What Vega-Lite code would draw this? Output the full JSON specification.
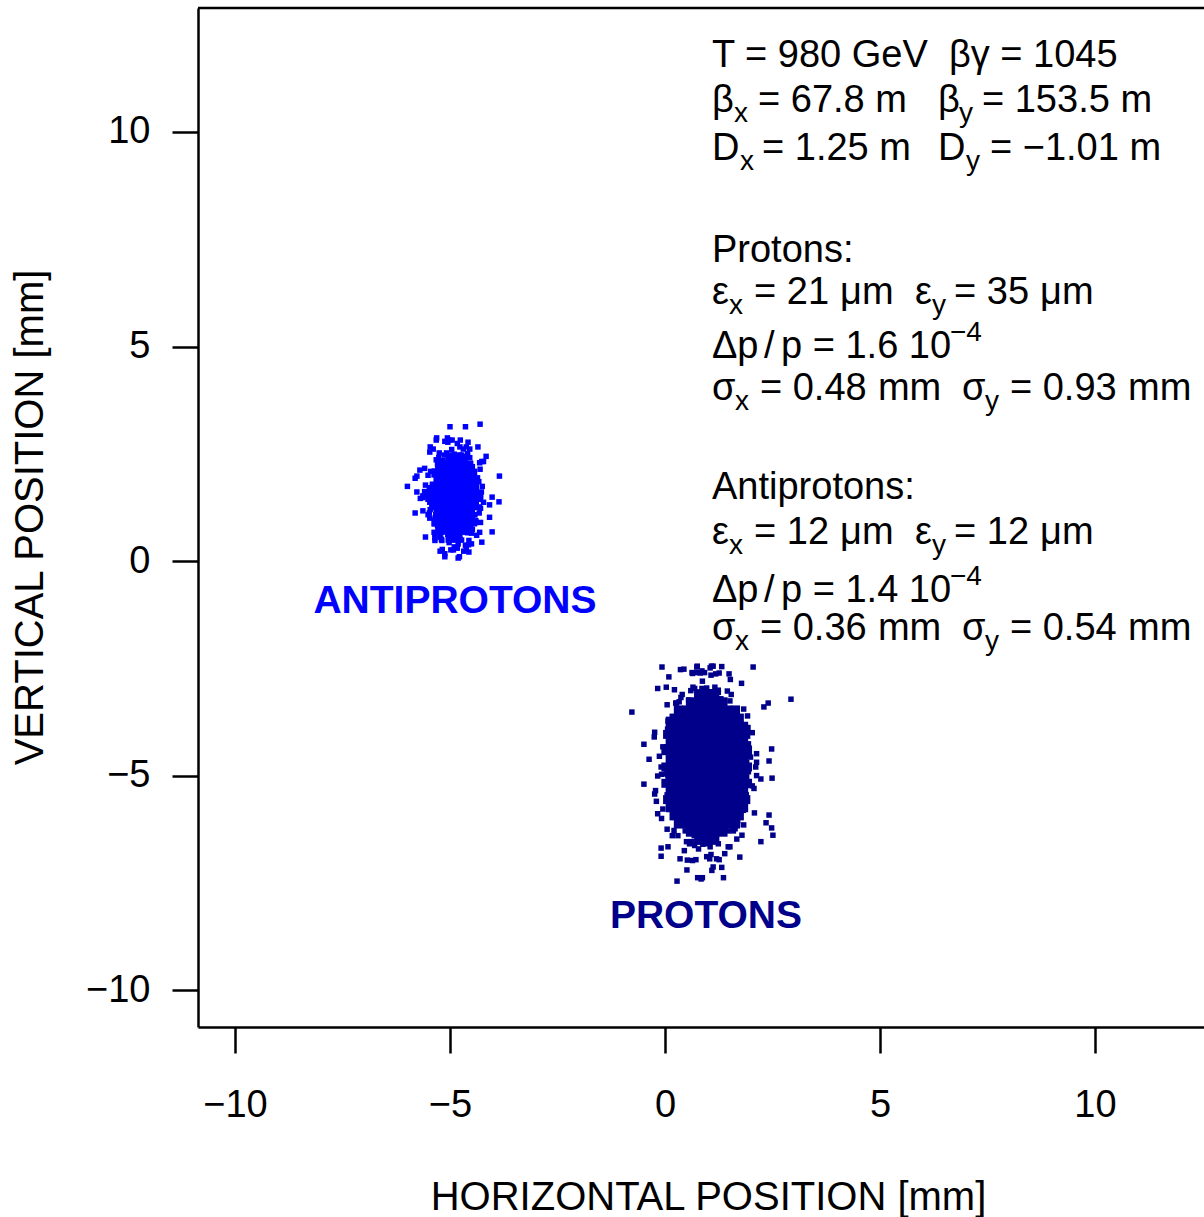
{
"$schema":"https://vega.github.io/schema/vega-lite/v6.json",
"autosize":{"type":"none"},
"padding":{"left":198,"top":8,"right":0,"bottom":190},
"width":1006,"height":1019,
"background":"white",
"config":{"view":{"stroke":null},"font":"Liberation Sans",
"axis":{"grid":false,"domainColor":"black","domainWidth":2.5,"tickColor":"black","tickWidth":2.5,"tickSize":26,"labelFont":"Liberation Sans","labelFontSize":38,"labelColor":"black","labelFlush":false,"labelOverlap":false,"titleFont":"Liberation Sans","titleFontSize":40,"titleFontWeight":"normal","titleColor":"black"}},
"datasets":{
"protons":[
{"x":1.00,"y":-4.43},{"x":0.57,"y":-6.59},{"x":1.55,"y":-3.95},{"x":0.83,"y":-5.13},{"x":1.24,"y":-4.66},{"x":0.27,"y":-5.67},{"x":0.96,"y":-3.57},{"x":1.36,"y":-5.45},{"x":0.75,"y":-4.78},{"x":1.79,"y":-4.37},
{"x":0.91,"y":-5.99},{"x":0.44,"y":-4.60},{"x":1.12,"y":-4.87},{"x":1.30,"y":-3.85},{"x":0.68,"y":-5.29},{"x":1.94,"y":-4.26},{"x":0.87,"y":-6.35},{"x":1.17,"y":-4.50},{"x":0.03,"y":-4.96},{"x":1.43,"y":-4.04},
{"x":0.80,"y":-5.17},{"x":1.05,"y":-3.46},{"x":0.52,"y":-5.72},{"x":1.63,"y":-4.71},{"x":0.63,"y":-5.42},{"x":0.99,"y":-3.79},{"x":1.21,"y":-5.05},{"x":0.35,"y":-4.40},{"x":1.08,"y":-5.88},{"x":0.94,"y":-4.14},
{"x":1.48,"y":-4.90},{"x":0.72,"y":-6.96},{"x":1.26,"y":-2.61},{"x":0.15,"y":-4.75},{"x":1.13,"y":-5.57},{"x":0.89,"y":-3.72},{"x":1.38,"y":-5.08},{"x":0.78,"y":-4.31},{"x":1.69,"y":-6.14},{"x":0.49,"y":-4.82},
{"x":1.02,"y":-4.08},{"x":0.65,"y":-5.22},{"x":1.51,"y":-3.26},{"x":0.85,"y":-4.93},{"x":1.19,"y":-5.81},{"x":0.41,"y":-4.53},{"x":1.33,"y":-4.20},{"x":0.92,"y":-5.37},{"x":-0.17,"y":-2.97},{"x":2.13,"y":-5.00},
{"x":0.99,"y":-6.40},{"x":0.67,"y":-4.82},{"x":1.39,"y":-3.92},{"x":0.86,"y":-5.30},{"x":1.16,"y":-2.94},{"x":0.45,"y":-4.94},{"x":0.96,"y":-6.00},{"x":1.25,"y":-4.46},{"x":0.80,"y":-4.06},{"x":1.57,"y":-5.47},
{"x":0.92,"y":-2.60},{"x":0.58,"y":-5.03},{"x":1.08,"y":-4.35},{"x":1.20,"y":-6.94},{"x":0.75,"y":-3.77},{"x":1.68,"y":-5.19},{"x":0.89,"y":-4.63},{"x":1.11,"y":-5.83},{"x":0.27,"y":-3.31},{"x":1.30,"y":-5.57},
{"x":0.84,"y":-4.77},{"x":1.02,"y":-4.27},{"x":0.63,"y":-6.22},{"x":1.45,"y":-4.55},{"x":0.72,"y":-4.87},{"x":0.98,"y":-3.65},{"x":1.14,"y":-5.38},{"x":0.51,"y":-4.15},{"x":1.05,"y":-6.66},{"x":0.94,"y":-4.43},
{"x":1.34,"y":-4.98},{"x":0.78,"y":-3.88},{"x":1.18,"y":-5.24},{"x":0.37,"y":-3.18},{"x":1.09,"y":-5.89},{"x":0.91,"y":-4.69},{"x":1.26,"y":-5.53},{"x":0.82,"y":-3.58},{"x":1.49,"y":-5.08},{"x":0.61,"y":-4.31},
{"x":1.00,"y":-6.08},{"x":0.73,"y":-3.99},{"x":1.36,"y":-4.91},{"x":0.87,"y":-7.38},{"x":1.12,"y":-2.45},{"x":0.55,"y":-4.73},{"x":1.23,"y":-5.72},{"x":0.93,"y":-3.49},{"x":0.13,"y":-5.13},{"x":1.82,"y":-4.20},
{"x":1.02,"y":-6.05},{"x":0.46,"y":-4.57},{"x":1.72,"y":-4.94},{"x":0.79,"y":-4.20},{"x":1.32,"y":-5.11},{"x":0.07,"y":-3.73},{"x":0.97,"y":-5.54},{"x":1.48,"y":-4.74},{"x":0.69,"y":-5.31},{"x":2.03,"y":-4.00},
{"x":0.90,"y":-5.01},{"x":0.29,"y":-4.49},{"x":1.17,"y":-5.67},{"x":1.40,"y":-4.28},{"x":0.60,"y":-4.89},{"x":2.23,"y":-6.54},{"x":0.85,"y":-3.06},{"x":1.23,"y":-4.77},{"x":-0.24,"y":-5.43},{"x":1.56,"y":-3.95},
{"x":0.76,"y":-5.03},{"x":1.08,"y":-4.41},{"x":0.39,"y":-5.88},{"x":1.83,"y":-4.83},{"x":0.54,"y":-4.23},{"x":1.00,"y":-5.15},{"x":1.28,"y":-3.58},{"x":0.17,"y":-4.91},{"x":1.12,"y":-5.62},{"x":0.94,"y":-4.59},
{"x":1.63,"y":-4.33},{"x":0.65,"y":-5.26},{"x":1.35,"y":-3.35},{"x":-0.08,"y":-4.97},{"x":1.19,"y":-4.52},{"x":0.87,"y":-6.24},{"x":1.50,"y":-4.13},{"x":0.73,"y":-5.07},{"x":1.90,"y":-4.70},{"x":0.36,"y":-5.50},
{"x":1.04,"y":-3.82},{"x":0.56,"y":-5.33},{"x":1.68,"y":-4.80},{"x":0.82,"y":-4.46},{"x":1.26,"y":-5.76},{"x":0.25,"y":-4.65},{"x":1.44,"y":-4.86},{"x":0.92,"y":-4.05},{"x":-0.49,"y":-5.20},{"x":2.48,"y":-4.38},
{"x":1.00,"y":-5.53},{"x":0.57,"y":-3.58},{"x":1.55,"y":-5.08},{"x":0.83,"y":-4.31},{"x":1.24,"y":-6.08},{"x":0.27,"y":-3.99},{"x":0.96,"y":-4.91},{"x":1.36,"y":-7.38},{"x":0.75,"y":-2.45},{"x":1.79,"y":-4.73},
{"x":0.91,"y":-5.72},{"x":0.44,"y":-3.49},{"x":1.12,"y":-5.13},{"x":1.30,"y":-4.20},{"x":0.68,"y":-6.40},{"x":1.94,"y":-4.82},{"x":0.87,"y":-3.92},{"x":1.17,"y":-5.30},{"x":0.03,"y":-2.94},{"x":1.43,"y":-4.94},
{"x":0.80,"y":-6.00},{"x":1.05,"y":-4.46},{"x":0.52,"y":-4.06},{"x":1.63,"y":-5.47},{"x":0.63,"y":-2.60},{"x":0.99,"y":-5.03},{"x":1.21,"y":-4.35},{"x":0.35,"y":-6.94},{"x":1.08,"y":-3.77},{"x":0.94,"y":-5.19},
{"x":1.48,"y":-4.63},{"x":0.72,"y":-5.83},{"x":1.26,"y":-3.31},{"x":0.15,"y":-5.57},{"x":1.13,"y":-4.77},{"x":0.89,"y":-4.27},{"x":1.38,"y":-6.22},{"x":0.78,"y":-4.55},{"x":1.69,"y":-4.87},{"x":0.49,"y":-3.65},
{"x":1.02,"y":-5.38},{"x":0.65,"y":-4.15},{"x":1.51,"y":-6.66},{"x":0.85,"y":-4.43},{"x":1.19,"y":-4.98},{"x":0.41,"y":-3.88},{"x":1.33,"y":-5.24},{"x":0.92,"y":-3.18},{"x":-0.17,"y":-5.89},{"x":2.13,"y":-4.69},
{"x":0.99,"y":-4.53},{"x":0.67,"y":-4.20},{"x":1.39,"y":-5.37},{"x":0.86,"y":-2.97},{"x":1.16,"y":-5.00},{"x":0.45,"y":-4.43},{"x":0.96,"y":-6.59},{"x":1.25,"y":-3.95},{"x":0.80,"y":-5.13},{"x":1.57,"y":-4.66},
{"x":0.92,"y":-5.67},{"x":0.58,"y":-3.57},{"x":1.08,"y":-5.45},{"x":1.20,"y":-4.78},{"x":0.75,"y":-4.37},{"x":1.68,"y":-5.99},{"x":0.89,"y":-4.60},{"x":1.11,"y":-4.87},{"x":0.27,"y":-3.85},{"x":1.30,"y":-5.29},
{"x":0.84,"y":-4.26},{"x":1.02,"y":-6.35},{"x":0.63,"y":-4.50},{"x":1.45,"y":-4.96},{"x":0.72,"y":-4.04},{"x":0.98,"y":-5.17},{"x":1.14,"y":-3.46},{"x":0.51,"y":-5.72},{"x":1.05,"y":-4.71},{"x":0.94,"y":-5.42},
{"x":1.34,"y":-3.79},{"x":0.78,"y":-5.05},{"x":1.18,"y":-4.40},{"x":0.37,"y":-5.88},{"x":1.09,"y":-4.14},{"x":0.91,"y":-4.90},{"x":1.26,"y":-6.96},{"x":0.82,"y":-2.61},{"x":1.49,"y":-4.75},{"x":0.61,"y":-5.57},
{"x":1.00,"y":-3.72},{"x":0.73,"y":-5.08},{"x":1.36,"y":-4.31},{"x":0.87,"y":-6.14},{"x":1.12,"y":-4.82},{"x":0.55,"y":-4.08},{"x":1.23,"y":-5.22},{"x":0.93,"y":-3.26},{"x":0.13,"y":-4.93},{"x":1.82,"y":-5.81},
{"x":1.02,"y":-4.55},{"x":0.46,"y":-4.87},{"x":1.72,"y":-3.65},{"x":0.79,"y":-5.38},{"x":1.32,"y":-4.15},{"x":0.07,"y":-6.66},{"x":0.97,"y":-4.43},{"x":1.48,"y":-4.98},{"x":0.69,"y":-3.88},{"x":2.03,"y":-5.24},
{"x":0.90,"y":-3.18},{"x":0.29,"y":-5.89},{"x":1.17,"y":-4.69},{"x":1.40,"y":-5.53},{"x":0.60,"y":-3.58},{"x":2.23,"y":-5.08},{"x":0.85,"y":-4.31},{"x":1.23,"y":-6.08},{"x":-0.24,"y":-3.99},{"x":1.56,"y":-4.91},
{"x":0.76,"y":-7.38},{"x":1.08,"y":-2.45},{"x":0.39,"y":-4.73},{"x":1.83,"y":-5.72},{"x":0.54,"y":-3.49},{"x":1.00,"y":-5.13},{"x":1.28,"y":-4.20},{"x":0.17,"y":-6.40},{"x":1.12,"y":-4.82},{"x":0.94,"y":-3.92},
{"x":1.63,"y":-5.30},{"x":0.65,"y":-2.94},{"x":1.35,"y":-4.94},{"x":-0.08,"y":-6.00},{"x":1.19,"y":-4.46},{"x":0.87,"y":-4.06},{"x":1.50,"y":-5.47},{"x":0.73,"y":-2.60},{"x":1.90,"y":-5.03},{"x":0.36,"y":-4.35},
{"x":1.04,"y":-6.94},{"x":0.56,"y":-3.77},{"x":1.68,"y":-5.19},{"x":0.82,"y":-4.63},{"x":1.26,"y":-5.83},{"x":0.25,"y":-3.31},{"x":1.44,"y":-5.57},{"x":0.92,"y":-4.77},{"x":-0.49,"y":-4.27},{"x":2.48,"y":-6.22},
{"x":1.00,"y":-5.67},{"x":0.57,"y":-4.28},{"x":1.55,"y":-4.89},{"x":0.83,"y":-6.54},{"x":1.24,"y":-3.06},{"x":0.27,"y":-4.77},{"x":0.96,"y":-5.43},{"x":1.36,"y":-3.95},{"x":0.75,"y":-5.03},{"x":1.79,"y":-4.41},
{"x":0.91,"y":-5.88},{"x":0.44,"y":-4.83},{"x":1.12,"y":-4.23},{"x":1.30,"y":-5.15},{"x":0.68,"y":-3.58},{"x":1.94,"y":-4.91},{"x":0.87,"y":-5.62},{"x":1.17,"y":-4.59},{"x":0.03,"y":-4.33},{"x":1.43,"y":-5.26},
{"x":0.80,"y":-3.35},{"x":1.05,"y":-4.97},{"x":0.52,"y":-4.52},{"x":1.63,"y":-6.24},{"x":0.63,"y":-4.13},{"x":0.99,"y":-5.07},{"x":1.21,"y":-4.70},{"x":0.35,"y":-5.50},{"x":1.08,"y":-3.82},{"x":0.94,"y":-5.33},
{"x":1.48,"y":-4.80},{"x":0.72,"y":-4.46},{"x":1.26,"y":-5.76},{"x":0.15,"y":-4.65},{"x":1.13,"y":-4.86},{"x":0.89,"y":-4.05},{"x":1.38,"y":-5.20},{"x":0.78,"y":-4.38},{"x":1.69,"y":-6.05},{"x":0.49,"y":-4.57},
{"x":1.02,"y":-4.94},{"x":0.65,"y":-4.20},{"x":1.51,"y":-5.11},{"x":0.85,"y":-3.73},{"x":1.19,"y":-5.54},{"x":0.41,"y":-4.74},{"x":1.33,"y":-5.31},{"x":0.92,"y":-4.00},{"x":-0.17,"y":-5.01},{"x":2.13,"y":-4.49},
{"x":0.99,"y":-3.58},{"x":0.67,"y":-4.91},{"x":1.39,"y":-5.62},{"x":0.86,"y":-4.59},{"x":1.16,"y":-4.33},{"x":0.45,"y":-5.26},{"x":0.96,"y":-3.35},{"x":1.25,"y":-4.97},{"x":0.80,"y":-4.52},{"x":1.57,"y":-6.24},
{"x":0.92,"y":-4.13},{"x":0.58,"y":-5.07},{"x":1.08,"y":-4.70},{"x":1.20,"y":-5.50},{"x":0.75,"y":-3.82},{"x":1.68,"y":-5.33},{"x":0.89,"y":-4.80},{"x":1.11,"y":-4.46},{"x":0.27,"y":-5.76},{"x":1.30,"y":-4.65},
{"x":0.84,"y":-4.86},{"x":1.02,"y":-4.05},{"x":0.63,"y":-5.20},{"x":1.45,"y":-4.38},{"x":0.72,"y":-6.05},{"x":0.98,"y":-4.57},{"x":1.14,"y":-4.94},{"x":0.51,"y":-4.20},{"x":1.05,"y":-5.11},{"x":0.94,"y":-3.73},
{"x":1.34,"y":-5.54},{"x":0.78,"y":-4.74},{"x":1.18,"y":-5.31},{"x":0.37,"y":-4.00},{"x":1.09,"y":-5.01},{"x":0.91,"y":-4.49},{"x":1.26,"y":-5.67},{"x":0.82,"y":-4.28},{"x":1.49,"y":-4.89},{"x":0.61,"y":-6.54},
{"x":1.00,"y":-3.06},{"x":0.73,"y":-4.77},{"x":1.36,"y":-5.43},{"x":0.87,"y":-3.95},{"x":1.12,"y":-5.03},{"x":0.55,"y":-4.41},{"x":1.23,"y":-5.88},{"x":0.93,"y":-4.83},{"x":0.13,"y":-4.23},{"x":1.82,"y":-5.15},
{"x":-0.07,"y":-2.47},{"x":2.05,"y":-2.47},{"x":2.93,"y":-3.22},{"x":-0.77,"y":-3.52},{"x":-0.37,"y":-4.62},{"x":2.49,"y":-5.06},{"x":2.51,"y":-6.39},{"x":2.42,"y":-5.92},{"x":0.28,"y":-7.46},{"x":0.51,"y":-7.2},
{"x":1.12,"y":-7.13},{"x":-0.09,"y":-6.69},{"x":-0.09,"y":-6.88},{"x":1.74,"y":-6.9},{"x":2.4,"y":-3.31},{"x":2.42,"y":-4.66},{"x":0.09,"y":-2.7},{"x":0.44,"y":-2.52},{"x":1.05,"y":-2.49},{"x":1.49,"y":-2.63},
{"x":2.3,"y":-3.4},{"x":2.35,"y":-6.1},{"x":-0.2,"y":-5.6},{"x":-0.25,"y":-4.1},
{"x":1.84,"y":-4.80},{"x":1.95,"y":-4.35},{"x":1.82,"y":-3.98},{"x":1.83,"y":-3.45},{"x":1.53,"y":-3.46},{"x":1.45,"y":-3.03},{"x":1.24,"y":-3.01},{"x":1.07,"y":-2.66},{"x":0.87,"y":-2.80},{"x":0.64,"y":-2.62},
{"x":0.55,"y":-3.24},{"x":0.33,"y":-3.28},{"x":0.26,"y":-3.69},{"x":0.06,"y":-3.92},{"x":0.06,"y":-4.38},{"x":-0.09,"y":-4.80},{"x":0.15,"y":-5.18},{"x":0.10,"y":-5.63},{"x":0.26,"y":-5.91},{"x":0.30,"y":-6.40},
{"x":0.50,"y":-6.54},{"x":0.64,"y":-6.98},{"x":0.88,"y":-6.60},{"x":1.07,"y":-6.84},{"x":1.24,"y":-6.59},{"x":1.47,"y":-6.66},{"x":1.59,"y":-6.29},{"x":1.83,"y":-6.15},{"x":1.73,"y":-5.53},{"x":1.90,"y":-5.23},
{"x":1.99,"y":-4.57},{"x":1.78,"y":-4.23},{"x":1.92,"y":-3.61},{"x":1.64,"y":-3.50},{"x":1.54,"y":-3.11},{"x":1.30,"y":-3.21},{"x":1.18,"y":-2.63},{"x":0.97,"y":-2.96},{"x":0.74,"y":-2.47},{"x":0.60,"y":-3.02},
{"x":0.40,"y":-3.11},{"x":0.37,"y":-3.63},{"x":0.08,"y":-3.69},{"x":0.16,"y":-4.23},{"x":-0.13,"y":-4.55},{"x":0.07,"y":-5.00},{"x":0.05,"y":-5.45},{"x":0.27,"y":-5.67},{"x":0.21,"y":-6.28},{"x":0.47,"y":-6.29},
{"x":0.52,"y":-6.97},{"x":0.78,"y":-6.71},{"x":0.97,"y":-6.89},{"x":1.14,"y":-6.51},{"x":1.39,"y":-6.82},{"x":1.47,"y":-6.29},{"x":1.79,"y":-6.39},{"x":1.75,"y":-5.77},{"x":1.89,"y":-5.45},{"x":1.77,"y":-4.98},
{"x":2.11,"y":-4.80},{"x":1.77,"y":-4.43},{"x":1.93,"y":-3.88},{"x":1.69,"y":-3.67},{"x":1.78,"y":-2.85},{"x":1.52,"y":-2.76},{"x":1.32,"y":-2.46},{"x":1.06,"y":-3.05},{"x":0.86,"y":-2.56},{"x":0.69,"y":-2.97},
{"x":0.36,"y":-2.53},{"x":0.22,"y":-3.00},{"x":0.05,"y":-3.35},{"x":0.22,"y":-4.08},{"x":-0.05,"y":-4.33},{"x":0.08,"y":-4.80},{"x":-0.22,"y":-5.35},{"x":-0.05,"y":-5.78},{"x":0.05,"y":-6.25},{"x":0.42,"y":-6.11},
{"x":0.45,"y":-6.75},{"x":0.69,"y":-6.63},{"x":0.84,"y":-7.41},{"x":1.09,"y":-7.21},{"x":1.32,"y":-7.14},{"x":1.38,"y":-6.33},{"x":1.67,"y":-6.48},{"x":1.69,"y":-5.93},{"x":2.08,"y":-5.87},{"x":2.07,"y":-5.30}
],
"pcore":[
{"x":0.21,"y":-4.80},{"x":0.40,"y":-4.80},{"x":0.59,"y":-4.80},{"x":0.78,"y":-4.80},{"x":0.97,"y":-4.80},{"x":1.16,"y":-4.80},{"x":1.35,"y":-4.80},{"x":1.54,"y":-4.80},{"x":1.73,"y":-4.80},
{"x":0.31,"y":-4.61},{"x":0.50,"y":-4.61},{"x":0.69,"y":-4.61},{"x":0.88,"y":-4.61},{"x":1.07,"y":-4.61},{"x":1.26,"y":-4.61},{"x":1.45,"y":-4.61},{"x":1.64,"y":-4.61},
{"x":0.31,"y":-4.99},{"x":0.50,"y":-4.99},{"x":0.69,"y":-4.99},{"x":0.88,"y":-4.99},{"x":1.07,"y":-4.99},{"x":1.26,"y":-4.99},{"x":1.45,"y":-4.99},{"x":1.64,"y":-4.99},
{"x":0.21,"y":-4.42},{"x":0.40,"y":-4.42},{"x":0.59,"y":-4.42},{"x":0.78,"y":-4.42},{"x":0.97,"y":-4.42},{"x":1.16,"y":-4.42},{"x":1.35,"y":-4.42},{"x":1.54,"y":-4.42},{"x":1.73,"y":-4.42},
{"x":0.21,"y":-5.18},{"x":0.40,"y":-5.18},{"x":0.59,"y":-5.18},{"x":0.78,"y":-5.18},{"x":0.97,"y":-5.18},{"x":1.16,"y":-5.18},{"x":1.35,"y":-5.18},{"x":1.54,"y":-5.18},{"x":1.73,"y":-5.18},
{"x":0.31,"y":-4.23},{"x":0.50,"y":-4.23},{"x":0.69,"y":-4.23},{"x":0.88,"y":-4.23},{"x":1.07,"y":-4.23},{"x":1.26,"y":-4.23},{"x":1.45,"y":-4.23},{"x":1.64,"y":-4.23},
{"x":0.31,"y":-5.37},{"x":0.50,"y":-5.37},{"x":0.69,"y":-5.37},{"x":0.88,"y":-5.37},{"x":1.07,"y":-5.37},{"x":1.26,"y":-5.37},{"x":1.45,"y":-5.37},{"x":1.64,"y":-5.37},
{"x":0.21,"y":-4.04},{"x":0.40,"y":-4.04},{"x":0.59,"y":-4.04},{"x":0.78,"y":-4.04},{"x":0.97,"y":-4.04},{"x":1.16,"y":-4.04},{"x":1.35,"y":-4.04},{"x":1.54,"y":-4.04},{"x":1.73,"y":-4.04},
{"x":0.21,"y":-5.56},{"x":0.40,"y":-5.56},{"x":0.59,"y":-5.56},{"x":0.78,"y":-5.56},{"x":0.97,"y":-5.56},{"x":1.16,"y":-5.56},{"x":1.35,"y":-5.56},{"x":1.54,"y":-5.56},{"x":1.73,"y":-5.56},
{"x":0.31,"y":-3.85},{"x":0.50,"y":-3.85},{"x":0.69,"y":-3.85},{"x":0.88,"y":-3.85},{"x":1.07,"y":-3.85},{"x":1.26,"y":-3.85},{"x":1.45,"y":-3.85},{"x":1.64,"y":-3.85},
{"x":0.31,"y":-5.75},{"x":0.50,"y":-5.75},{"x":0.69,"y":-5.75},{"x":0.88,"y":-5.75},{"x":1.07,"y":-5.75},{"x":1.26,"y":-5.75},{"x":1.45,"y":-5.75},{"x":1.64,"y":-5.75},
{"x":0.40,"y":-3.66},{"x":0.59,"y":-3.66},{"x":0.78,"y":-3.66},{"x":0.97,"y":-3.66},{"x":1.16,"y":-3.66},{"x":1.35,"y":-3.66},{"x":1.54,"y":-3.66},
{"x":0.40,"y":-5.94},{"x":0.59,"y":-5.94},{"x":0.78,"y":-5.94},{"x":0.97,"y":-5.94},{"x":1.16,"y":-5.94},{"x":1.35,"y":-5.94},{"x":1.54,"y":-5.94},
{"x":0.50,"y":-3.47},{"x":0.69,"y":-3.47},{"x":0.88,"y":-3.47},{"x":1.07,"y":-3.47},{"x":1.26,"y":-3.47},{"x":1.45,"y":-3.47},
{"x":0.50,"y":-6.13},{"x":0.69,"y":-6.13},{"x":0.88,"y":-6.13},{"x":1.07,"y":-6.13},{"x":1.26,"y":-6.13},{"x":1.45,"y":-6.13},
{"x":0.59,"y":-3.28},{"x":0.78,"y":-3.28},{"x":0.97,"y":-3.28},{"x":1.16,"y":-3.28},{"x":1.35,"y":-3.28},
{"x":0.59,"y":-6.32},{"x":0.78,"y":-6.32},{"x":0.97,"y":-6.32},{"x":1.16,"y":-6.32},{"x":1.35,"y":-6.32},
{"x":0.78,"y":-3.09},{"x":0.97,"y":-3.09},{"x":1.16,"y":-3.09},
{"x":0.78,"y":-6.51},{"x":0.97,"y":-6.51},{"x":1.16,"y":-6.51},
{"x":0.02,"y":-4.80},{"x":1.92,"y":-4.80},
{"x":0.12,"y":-4.61},{"x":1.83,"y":-4.61},{"x":0.12,"y":-4.99},{"x":1.83,"y":-4.99},
{"x":0.02,"y":-4.42},{"x":1.92,"y":-4.42},{"x":0.02,"y":-5.18},{"x":1.92,"y":-5.18},
{"x":0.12,"y":-4.23},{"x":1.83,"y":-4.23},{"x":0.12,"y":-5.37},{"x":1.83,"y":-5.37},
{"x":0.06,"y":-4.04},{"x":1.88,"y":-4.04},{"x":0.06,"y":-5.56},{"x":1.88,"y":-5.56},
{"x":0.12,"y":-3.85},{"x":1.83,"y":-3.85},{"x":0.12,"y":-5.75},{"x":1.83,"y":-5.75},
{"x":0.21,"y":-3.66},{"x":1.73,"y":-3.66},{"x":0.21,"y":-5.94},{"x":1.73,"y":-5.94},
{"x":0.31,"y":-3.47},{"x":1.64,"y":-3.47},{"x":0.31,"y":-6.13},{"x":1.64,"y":-6.13}
],
"antiprotons":[
{"x":-4.91,"y":2.26},{"x":-5.23,"y":1.15},{"x":-4.51,"y":1.54},{"x":-5.04,"y":1.79},{"x":-4.74,"y":0.83},{"x":-5.45,"y":1.65},{"x":-4.94,"y":1.49},{"x":-4.65,"y":2.09},{"x":-5.10,"y":1.24},{"x":-4.33,"y":1.85},
{"x":-4.98,"y":0.62},{"x":-5.32,"y":1.71},{"x":-4.82,"y":1.44},{"x":-4.70,"y":1.98},{"x":-5.15,"y":1.31},{"x":-4.22,"y":2.32},{"x":-5.01,"y":0.99},{"x":-4.79,"y":1.58},{"x":-5.63,"y":1.17},{"x":-4.60,"y":2.13},
{"x":-5.06,"y":1.39},{"x":-4.88,"y":1.77},{"x":-5.27,"y":0.90},{"x":-4.45,"y":1.92},{"x":-5.18,"y":1.47},{"x":-4.92,"y":0.26},{"x":-4.76,"y":2.82},{"x":-5.39,"y":1.56},{"x":-4.85,"y":1.08},{"x":-4.96,"y":2.17},
{"x":-4.56,"y":1.37},{"x":-5.12,"y":1.82},{"x":-4.72,"y":0.74},{"x":-5.53,"y":1.52},{"x":-4.81,"y":1.96},{"x":-4.99,"y":1.28},{"x":-4.64,"y":2.44},{"x":-5.08,"y":1.46},{"x":-4.41,"y":0.94},{"x":-5.29,"y":1.69},
{"x":-4.90,"y":1.89},{"x":-5.17,"y":1.20},{"x":-4.54,"y":2.61},{"x":-5.03,"y":1.41},{"x":-4.78,"y":1.75},{"x":-5.35,"y":0.48},{"x":-4.67,"y":2.03},{"x":-4.97,"y":1.34},{"x":-5.77,"y":1.61},{"x":-4.08,"y":1.02},
{"x":-4.92,"y":2.06},{"x":-5.16,"y":1.23},{"x":-4.62,"y":2.66},{"x":-5.02,"y":1.44},{"x":-4.79,"y":0.80},{"x":-5.33,"y":1.74},{"x":-4.94,"y":1.98},{"x":-4.72,"y":1.12},{"x":-5.06,"y":2.87},{"x":-4.48,"y":1.39},
{"x":-4.97,"y":1.80},{"x":-5.23,"y":0.23},{"x":-4.86,"y":2.16},{"x":-4.76,"y":1.30},{"x":-5.10,"y":1.64},{"x":-4.40,"y":0.90},{"x":-5.00,"y":2.44},{"x":-4.83,"y":1.06},{"x":-5.46,"y":1.55},{"x":-4.69,"y":1.85},
{"x":-5.03,"y":0.67},{"x":-4.90,"y":1.68},{"x":-5.19,"y":1.49},{"x":-4.57,"y":2.23},{"x":-5.13,"y":1.18},{"x":-4.93,"y":1.93},{"x":-4.81,"y":0.40},{"x":-5.29,"y":1.75},{"x":-4.88,"y":1.42},{"x":-4.96,"y":2.09},
{"x":-4.66,"y":1.26},{"x":-5.08,"y":2.52},{"x":-4.78,"y":0.87},{"x":-5.39,"y":1.60},{"x":-4.85,"y":1.08},{"x":-4.98,"y":2.28},{"x":-4.71,"y":1.36},{"x":-5.05,"y":1.83},{"x":-4.54,"y":0.75},{"x":-5.21,"y":2.02},
{"x":-4.91,"y":1.46},{"x":-5.12,"y":0.10},{"x":-4.64,"y":3.13},{"x":-5.01,"y":1.57},{"x":-4.82,"y":0.97},{"x":-5.25,"y":2.32},{"x":-4.74,"y":1.33},{"x":-4.97,"y":1.90},{"x":-5.57,"y":0.56},{"x":-4.29,"y":1.52},
{"x":-4.91,"y":2.32},{"x":-5.23,"y":0.99},{"x":-4.51,"y":1.58},{"x":-5.04,"y":1.17},{"x":-4.74,"y":2.13},{"x":-5.45,"y":1.39},{"x":-4.94,"y":1.77},{"x":-4.65,"y":0.90},{"x":-5.10,"y":1.92},{"x":-4.33,"y":1.47},
{"x":-4.98,"y":0.26},{"x":-5.32,"y":2.82},{"x":-4.82,"y":1.56},{"x":-4.70,"y":1.08},{"x":-5.15,"y":2.17},{"x":-4.22,"y":1.37},{"x":-5.01,"y":1.82},{"x":-4.79,"y":0.74},{"x":-5.63,"y":1.52},{"x":-4.60,"y":1.96},
{"x":-5.06,"y":1.28},{"x":-4.88,"y":2.44},{"x":-5.27,"y":1.46},{"x":-4.45,"y":0.94},{"x":-5.18,"y":1.69},{"x":-4.92,"y":1.89},{"x":-4.76,"y":1.20},{"x":-5.39,"y":2.61},{"x":-4.85,"y":1.41},{"x":-4.96,"y":1.75},
{"x":-4.56,"y":0.48},{"x":-5.12,"y":2.03},{"x":-4.72,"y":1.34},{"x":-5.53,"y":1.61},{"x":-4.81,"y":1.02},{"x":-4.99,"y":2.26},{"x":-4.64,"y":1.15},{"x":-5.08,"y":1.54},{"x":-4.41,"y":1.79},{"x":-5.29,"y":0.83},
{"x":-4.90,"y":1.65},{"x":-5.17,"y":1.49},{"x":-4.54,"y":2.09},{"x":-5.03,"y":1.24},{"x":-4.78,"y":1.85},{"x":-5.35,"y":0.62},{"x":-4.67,"y":1.71},{"x":-4.97,"y":1.44},{"x":-5.77,"y":1.98},{"x":-4.08,"y":1.31},
{"x":-4.90,"y":1.12},{"x":-5.31,"y":2.87},{"x":-4.39,"y":1.39},{"x":-5.06,"y":1.80},{"x":-4.68,"y":0.23},{"x":-5.59,"y":2.16},{"x":-4.94,"y":1.30},{"x":-4.57,"y":1.64},{"x":-5.13,"y":0.90},{"x":-4.16,"y":2.44},
{"x":-4.99,"y":1.06},{"x":-5.42,"y":1.55},{"x":-4.79,"y":1.85},{"x":-4.63,"y":0.67},{"x":-5.21,"y":1.68},{"x":-4.02,"y":1.49},{"x":-5.03,"y":2.23},{"x":-4.74,"y":1.18},{"x":-5.81,"y":1.93},{"x":-4.50,"y":0.40},
{"x":-5.09,"y":1.75},{"x":-4.86,"y":1.42},{"x":-5.35,"y":2.09},{"x":-4.32,"y":1.26},{"x":-5.25,"y":2.52},{"x":-4.92,"y":0.87},{"x":-4.71,"y":1.60},{"x":-5.51,"y":1.08},{"x":-4.83,"y":2.28},{"x":-4.96,"y":1.36},
{"x":-4.45,"y":1.83},{"x":-5.17,"y":0.75},{"x":-4.66,"y":2.02},{"x":-5.69,"y":1.46},{"x":-4.78,"y":0.10},{"x":-5.00,"y":3.13},{"x":-4.55,"y":1.57},{"x":-5.11,"y":0.97},{"x":-4.26,"y":2.32},{"x":-5.38,"y":1.33},
{"x":-4.88,"y":1.90},{"x":-5.23,"y":0.56},{"x":-4.43,"y":1.52},{"x":-5.05,"y":2.06},{"x":-4.73,"y":1.23},{"x":-5.46,"y":2.66},{"x":-4.60,"y":1.44},{"x":-4.98,"y":0.80},{"x":-5.99,"y":1.74},{"x":-3.85,"y":1.98},
{"x":-4.92,"y":1.92},{"x":-5.16,"y":1.47},{"x":-4.62,"y":0.26},{"x":-5.02,"y":2.82},{"x":-4.79,"y":1.56},{"x":-5.33,"y":1.08},{"x":-4.94,"y":2.17},{"x":-4.72,"y":1.37},{"x":-5.06,"y":1.82},{"x":-4.48,"y":0.74},
{"x":-4.97,"y":1.52},{"x":-5.23,"y":1.96},{"x":-4.86,"y":1.28},{"x":-4.76,"y":2.44},{"x":-5.10,"y":1.46},{"x":-4.40,"y":0.94},{"x":-5.00,"y":1.69},{"x":-4.83,"y":1.89},{"x":-5.46,"y":1.20},{"x":-4.69,"y":2.61},
{"x":-5.03,"y":1.41},{"x":-4.90,"y":1.75},{"x":-5.19,"y":0.48},{"x":-4.57,"y":2.03},{"x":-5.13,"y":1.34},{"x":-4.93,"y":1.61},{"x":-4.81,"y":1.02},{"x":-5.29,"y":2.26},{"x":-4.88,"y":1.15},{"x":-4.96,"y":1.54},
{"x":-4.66,"y":1.79},{"x":-5.08,"y":0.83},{"x":-4.78,"y":1.65},{"x":-5.39,"y":1.49},{"x":-4.85,"y":2.09},{"x":-4.98,"y":1.24},{"x":-4.71,"y":1.85},{"x":-5.05,"y":0.62},{"x":-4.54,"y":1.71},{"x":-5.21,"y":1.44},
{"x":-4.91,"y":1.98},{"x":-5.12,"y":1.31},{"x":-4.64,"y":2.32},{"x":-5.01,"y":0.99},{"x":-4.82,"y":1.58},{"x":-5.25,"y":1.17},{"x":-4.74,"y":2.13},{"x":-4.97,"y":1.39},{"x":-5.57,"y":1.77},{"x":-4.29,"y":0.90},
{"x":-4.30,"y":3.19},{"x":-3.86,"y":1.38},{"x":-4.81,"y":0.07},{"x":-4.56,"y":0.21},{"x":-5.81,"y":1.12},{"x":-4.02,"y":0.68},{"x":-4.95,"y":2.82},{"x":-4.58,"y":2.77},{"x":-4.35,"y":2.66},{"x":-5.47,"y":2.54},
{"x":-5.70,"y":2.12},{"x":-4.26,"y":0.44},
{"x":-4.35,"y":1.48},{"x":-4.25,"y":1.74},{"x":-4.36,"y":1.94},{"x":-4.31,"y":2.29},{"x":-4.55,"y":2.22},{"x":-4.59,"y":2.51},{"x":-4.73,"y":2.47},{"x":-4.83,"y":2.74},{"x":-4.96,"y":2.60},{"x":-5.12,"y":2.79},
{"x":-5.16,"y":2.34},{"x":-5.32,"y":2.36},{"x":-5.35,"y":2.09},{"x":-5.51,"y":2.00},{"x":-5.48,"y":1.71},{"x":-5.63,"y":1.48},{"x":-5.41,"y":1.27},{"x":-5.47,"y":1.00},{"x":-5.35,"y":0.87},{"x":-5.35,"y":0.54},
{"x":-5.20,"y":0.51},{"x":-5.12,"y":0.17},{"x":-4.96,"y":0.50},{"x":-4.83,"y":0.30},{"x":-4.73,"y":0.49},{"x":-4.57,"y":0.38},{"x":-4.50,"y":0.65},{"x":-4.31,"y":0.67},{"x":-4.42,"y":1.08},{"x":-4.29,"y":1.23},
{"x":-4.27,"y":1.61},{"x":-4.39,"y":1.79},{"x":-4.30,"y":2.14},{"x":-4.48,"y":2.20},{"x":-4.54,"y":2.41},{"x":-4.69,"y":2.37},{"x":-4.77,"y":2.66},{"x":-4.90,"y":2.49},{"x":-5.05,"y":2.77},{"x":-5.13,"y":2.47},
{"x":-5.26,"y":2.41},{"x":-5.28,"y":2.13},{"x":-5.45,"y":2.09},{"x":-5.41,"y":1.79},{"x":-5.59,"y":1.62},{"x":-5.47,"y":1.37},{"x":-5.48,"y":1.12},{"x":-5.34,"y":1.00},{"x":-5.37,"y":0.67},{"x":-5.21,"y":0.66},
{"x":-5.18,"y":0.27},{"x":-5.02,"y":0.43},{"x":-4.90,"y":0.33},{"x":-4.79,"y":0.53},{"x":-4.64,"y":0.37},{"x":-4.59,"y":0.66},{"x":-4.38,"y":0.60},{"x":-4.41,"y":0.94},{"x":-4.32,"y":1.12},{"x":-4.39,"y":1.38}
],
"acore":[
{"x":-5.28,"y":1.48},{"x":-5.09,"y":1.48},{"x":-4.90,"y":1.48},{"x":-4.71,"y":1.48},{"x":-4.52,"y":1.48},
{"x":-5.19,"y":1.67},{"x":-5.00,"y":1.67},{"x":-4.81,"y":1.67},{"x":-4.62,"y":1.67},
{"x":-5.19,"y":1.29},{"x":-5.00,"y":1.29},{"x":-4.81,"y":1.29},{"x":-4.62,"y":1.29},
{"x":-5.09,"y":1.86},{"x":-4.90,"y":1.86},{"x":-4.71,"y":1.86},
{"x":-5.09,"y":1.10},{"x":-4.90,"y":1.10},{"x":-4.71,"y":1.10},
{"x":-5.19,"y":2.05},{"x":-5.00,"y":2.05},{"x":-4.81,"y":2.05},{"x":-4.62,"y":2.05},
{"x":-5.19,"y":0.91},{"x":-5.00,"y":0.91},{"x":-4.81,"y":0.91},{"x":-4.62,"y":0.91},
{"x":-4.90,"y":2.24},{"x":-4.90,"y":0.72},
{"x":-5.47,"y":1.48},{"x":-4.33,"y":1.48},
{"x":-5.38,"y":1.67},{"x":-4.43,"y":1.67},{"x":-5.38,"y":1.29},{"x":-4.43,"y":1.29},
{"x":-5.28,"y":1.86},{"x":-4.52,"y":1.86},{"x":-5.28,"y":1.10},{"x":-4.52,"y":1.10},
{"x":-5.33,"y":2.05},{"x":-4.47,"y":2.05},{"x":-5.33,"y":0.91},{"x":-4.47,"y":0.91},
{"x":-5.09,"y":2.24},{"x":-4.71,"y":2.24},{"x":-5.24,"y":2.24},{"x":-4.56,"y":2.24},
{"x":-5.09,"y":0.72},{"x":-4.71,"y":0.72},{"x":-5.24,"y":0.72},{"x":-4.56,"y":0.72},
{"x":-5.00,"y":2.43},{"x":-4.81,"y":2.43},{"x":-5.00,"y":0.53},{"x":-4.81,"y":0.53}
],
"notes":[
{"t":"T = 980 GeV\u00a0 βγ = 1045","x":1.093,"y":11.515,"k":"m"},
{"t":"β","x":1.093,"y":10.466,"k":"m"},
{"t":"x","x":1.605,"y":10.233,"k":"s"},
{"t":"= 67.8 m","x":2.163,"y":10.466,"k":"m"},
{"t":"β","x":6.349,"y":10.466,"k":"m"},
{"t":"y","x":6.837,"y":10.233,"k":"s"},
{"t":"= 153.5 m","x":7.372,"y":10.466,"k":"m"},
{"t":"D","x":1.093,"y":9.347,"k":"m"},
{"t":"x","x":1.744,"y":9.114,"k":"s"},
{"t":"= 1.25 m","x":2.256,"y":9.347,"k":"m"},
{"t":"D","x":6.349,"y":9.347,"k":"m"},
{"t":"y","x":7.0,"y":9.114,"k":"s"},
{"t":"= −1.01 m","x":7.558,"y":9.347,"k":"m"},
{"t":"Protons:","x":1.093,"y":6.97,"k":"m"},
{"t":"ε","x":1.093,"y":5.991,"k":"m"},
{"t":"x","x":1.488,"y":5.758,"k":"s"},
{"t":"= 21","x":2.07,"y":5.991,"k":"m"},
{"t":"μm","x":4.07,"y":5.991,"k":"m"},
{"t":"ε","x":5.814,"y":5.991,"k":"m"},
{"t":"y","x":6.209,"y":5.758,"k":"s"},
{"t":"= 35","x":6.721,"y":5.991,"k":"m"},
{"t":"μm","x":8.721,"y":5.991,"k":"m"},
{"t":"Δp","x":1.093,"y":4.732,"k":"m"},
{"t":"/","x":2.302,"y":4.732,"k":"m"},
{"t":"p = 1.6 10","x":2.698,"y":4.732,"k":"m"},
{"t":"−4","x":6.628,"y":5.128,"k":"s"},
{"t":"σ","x":1.093,"y":3.753,"k":"m"},
{"t":"x","x":1.628,"y":3.52,"k":"s"},
{"t":"= 0.48","x":2.209,"y":3.753,"k":"m"},
{"t":"mm","x":4.953,"y":3.753,"k":"m"},
{"t":"σ","x":6.907,"y":3.753,"k":"m"},
{"t":"y","x":7.442,"y":3.52,"k":"s"},
{"t":"= 0.93","x":8.023,"y":3.753,"k":"m"},
{"t":"mm","x":10.767,"y":3.753,"k":"m"},
{"t":"Antiprotons:","x":1.093,"y":1.445,"k":"m"},
{"t":"ε","x":1.093,"y":0.396,"k":"m"},
{"t":"x","x":1.488,"y":0.163,"k":"s"},
{"t":"= 12","x":2.07,"y":0.396,"k":"m"},
{"t":"μm","x":4.07,"y":0.396,"k":"m"},
{"t":"ε","x":5.814,"y":0.396,"k":"m"},
{"t":"y","x":6.209,"y":0.163,"k":"s"},
{"t":"= 12","x":6.721,"y":0.396,"k":"m"},
{"t":"μm","x":8.721,"y":0.396,"k":"m"},
{"t":"Δp","x":1.093,"y":-0.956,"k":"m"},
{"t":"/","x":2.302,"y":-0.956,"k":"m"},
{"t":"p = 1.4 10","x":2.698,"y":-0.956,"k":"m"},
{"t":"−4","x":6.628,"y":-0.559,"k":"s"},
{"t":"σ","x":1.093,"y":-1.841,"k":"m"},
{"t":"x","x":1.628,"y":-2.075,"k":"s"},
{"t":"= 0.36","x":2.209,"y":-1.841,"k":"m"},
{"t":"mm","x":4.953,"y":-1.841,"k":"m"},
{"t":"σ","x":6.907,"y":-1.841,"k":"m"},
{"t":"y","x":7.442,"y":-2.075,"k":"s"},
{"t":"= 0.54","x":8.023,"y":-1.841,"k":"m"},
{"t":"mm","x":10.767,"y":-1.841,"k":"m"}
],
"labels":[
{"t":"ANTIPROTONS","x":-4.884,"y":-0.932},
{"t":"PROTONS","x":0.953,"y":-8.275}
]},
"layer":[
{"data":{"name":"protons"},
 "mark":{"type":"point","shape":"square","filled":true,"size":30,"opacity":1,"strokeWidth":0,"color":"#00008B"},
 "encoding":{
  "x":{"field":"x","type":"quantitative","scale":{"domain":[-10.86,12.535],"nice":false,"zero":false},
       "axis":{"values":[-10,-5,0,5,10],"title":"HORIZONTAL POSITION [mm]","labelPadding":33,"titleX":510,"titleY":170,"titleBaseline":"middle","titleAlign":"center"}},
  "y":{"field":"y","type":"quantitative","scale":{"domain":[-10.86,12.89],"nice":false,"zero":false},
       "axis":{"values":[-10,-5,0,5,10],"title":"VERTICAL POSITION [mm]","labelPadding":22,"titleX":-168,"titleY":509,"titleAngle":-90,"titleBaseline":"middle","titleAlign":"center"}}}},
{"data":{"name":"pcore"},
 "mark":{"type":"point","shape":"square","filled":true,"size":81,"opacity":1,"strokeWidth":0,"color":"#00008B"},
 "encoding":{
  "x":{"field":"x","type":"quantitative"},
  "y":{"field":"y","type":"quantitative"}}},
{"data":{"name":"antiprotons"},
 "mark":{"type":"point","shape":"square","filled":true,"size":30,"opacity":1,"strokeWidth":0,"color":"#0000FF"},
 "encoding":{
  "x":{"field":"x","type":"quantitative"},
  "y":{"field":"y","type":"quantitative"}}},
{"data":{"name":"acore"},
 "mark":{"type":"point","shape":"square","filled":true,"size":81,"opacity":1,"strokeWidth":0,"color":"#0000FF"},
 "encoding":{
  "x":{"field":"x","type":"quantitative"},
  "y":{"field":"y","type":"quantitative"}}},
{"data":{"values":[{}]},
 "mark":{"type":"rule","color":"black","strokeWidth":2.5},
 "encoding":{"y":{"datum":12.89,"type":"quantitative"}}},
{"data":{"name":"notes"},
 "transform":[{"filter":"datum.k === 'm'"}],
 "mark":{"type":"text","align":"left","baseline":"alphabetic","fontSize":38,"font":"Liberation Sans","color":"black"},
 "encoding":{
  "x":{"field":"x","type":"quantitative"},
  "y":{"field":"y","type":"quantitative"},
  "text":{"field":"t"}}},
{"data":{"name":"notes"},
 "transform":[{"filter":"datum.k === 's'"}],
 "mark":{"type":"text","align":"left","baseline":"alphabetic","fontSize":28,"font":"Liberation Sans","color":"black"},
 "encoding":{
  "x":{"field":"x","type":"quantitative"},
  "y":{"field":"y","type":"quantitative"},
  "text":{"field":"t"}}},
{"data":{"name":"labels"},
 "mark":{"type":"text","align":"center","baseline":"middle","fontSize":39,"fontWeight":"bold","font":"Liberation Sans"},
 "encoding":{
  "x":{"field":"x","type":"quantitative"},
  "y":{"field":"y","type":"quantitative"},
  "text":{"field":"t"},
  "color":{"field":"t","type":"nominal","scale":{"domain":["ANTIPROTONS","PROTONS"],"range":["#0000FF","#00008B"]},"legend":null}}}
]
}
